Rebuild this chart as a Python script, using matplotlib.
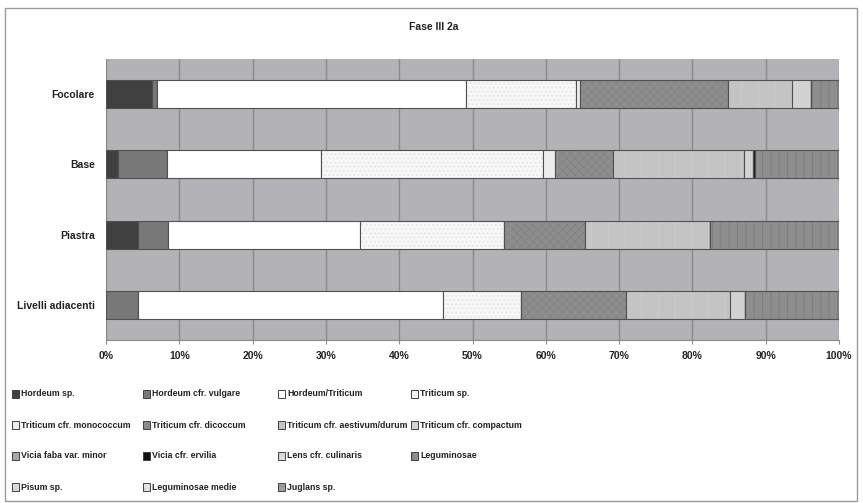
import matplotlib
matplotlib.use("Agg")
import matplotlib.pyplot as plt
from matplotlib.patches import Rectangle
import numpy as np

plt.rcParams['font.family'] = ['Liberation Sans', 'DejaVu Sans']
plt.rcParams['hatch.linewidth'] = 0.6

title = "Fase III 2a"
categories = ["Focolare", "Base", "Piastra", "Livelli adiacenti"]
series = ["Hordeum sp.", "Hordeum cfr. vulgare", "Hordeum/Triticum", "Triticum sp.",
          "Triticum cfr. monococcum", "Triticum cfr. dicoccum", "Triticum cfr. aestivum/durum",
          "Triticum cfr. compactum", "Vicia faba var. minor", "Vicia cfr. ervilia",
          "Lens cfr. culinaris", "Leguminosae", "Pisum sp.", "Leguminosae medie", "Juglans sp."]
# percentages per category, in series order
focolare = [6.3, 0.7, 42.1, 15.0, 0.6, 20.2, 8.7, 2.6, 0, 0, 0, 3.8, 0, 0, 0]
base = [1.7, 6.6, 21.0, 30.3, 1.7, 7.9, 17.8, 1.3, 0, 0.2, 0, 11.5, 0, 0, 0]
piastra = [4.3, 4.2, 26.2, 19.6, 0, 11.0, 17.1, 0, 0, 0, 0, 17.6, 0, 0, 0]
livelli = [0, 4.3, 41.7, 10.6, 0, 14.3, 14.2, 2.1, 0, 0, 0, 12.8, 0, 0, 0]
xticks = [0, 10, 20, 30, 40, 50, 60, 70, 80, 90, 100]

data = np.array([focolare, base, piastra, livelli])

styles = [
    dict(fc='#404040', hatch=None, hc=None),
    dict(fc='#787878', hatch=None, hc=None),
    dict(fc='#ffffff', hatch=None, hc=None),
    dict(fc='#f7f7f7', hatch='....', hc='#e0e0e0'),
    dict(fc='#ececec', hatch=None, hc=None),
    dict(fc='#8e8e8e', hatch='xxxx', hc='#828282'),
    dict(fc='#c4c4c4', hatch='|', hc='#cfcfcf'),
    dict(fc='#d2d2d2', hatch=None, hc=None),
    dict(fc='#a8a8a8', hatch='||', hc='#8a8a8a'),
    dict(fc='#111111', hatch=None, hc=None),
    dict(fc='#dedede', hatch='++', hc='#cccccc'),
    dict(fc='#8e8e8e', hatch='||', hc='#7c7c7c'),
    dict(fc='#d8d8d8', hatch=None, hc=None),
    dict(fc='#e4e4e4', hatch='...', hc='#c8c8c8'),
    dict(fc='#a0a0a0', hatch='---', hc='#888888'),
]

W, H = 863, 503
fig = plt.figure(figsize=(W / 100, H / 100), dpi=100)
fig.patch.set_facecolor('white')

# outer frame
fig.add_artist(Rectangle((5 / W, 1 - 501 / H), (857 - 5) / W, (501 - 8) / H,
                         transform=fig.transFigure, fill=False, ec='#9a9a9a', lw=1.0))

ax = fig.add_axes([106 / W, 1 - 340 / H, (839 - 106) / W, (340 - 59) / H])
ax.set_facecolor('#b3b3b7')

y = np.arange(len(categories))
left = np.zeros(len(categories))
for j, name in enumerate(series):
    st = styles[j]
    vals = data[:, j]
    bars = ax.barh(y, vals, left=left, height=0.4, color=st['fc'], edgecolor='#505050',
                   linewidth=0.8, zorder=3)
    if st['hatch']:
        for b in bars:
            b.set_hatch(st['hatch'])
            b._hatch_color = matplotlib.colors.to_rgba(st['hc'])
    left += vals

ax.set_xlim(0, 100)
ax.set_ylim(len(categories) - 0.5, -0.5)
ax.set_xticks(xticks)
ax.set_xticklabels([f"{t}%" for t in xticks], fontsize=7.5, fontweight='bold', color='#222222')
ax.set_yticks(y)
ax.set_yticklabels(categories, fontsize=7.5, fontweight='bold', color='#222222')
ax.xaxis.grid(True, color='#8a8a8a', lw=1.0, zorder=1)
ax.set_axisbelow(True)
ax.tick_params(axis='x', length=3, color='#8a8a8a', pad=5)
ax.tick_params(axis='y', length=0, pad=8)
for s in ['top', 'right', 'left']:
    ax.spines[s].set_visible(False)
ax.spines['bottom'].set_color('#8a8a8a')

fig.text(434 / W, 1 - 27 / H, title, ha='center', va='center', fontsize=7.5,
         fontweight='bold', color='#222222')

# legend (manual, row-major, 4 columns)
col_x = [12, 143, 278, 411]
row_y = [394, 425, 456, 487]
for i, name in enumerate(series):
    r, c = divmod(i, 4)
    x0, y0 = col_x[c], row_y[r]
    st = styles[i]
    rect = Rectangle((x0 / W, 1 - (y0 + 4) / H), 7 / W, 8 / H, transform=fig.transFigure,
                     fc=st['fc'], ec='#404040', lw=0.7)
    if st['hatch']:
        rect.set_hatch(st['hatch'])
        rect._hatch_color = matplotlib.colors.to_rgba(st['hc'])
    fig.add_artist(rect)
    fig.text((x0 + 9) / W, 1 - y0 / H, name, ha='left', va='center', fontsize=6.3,
             fontweight='bold', color='#222222')

fig.savefig('out.png', dpi=100, facecolor='white')
